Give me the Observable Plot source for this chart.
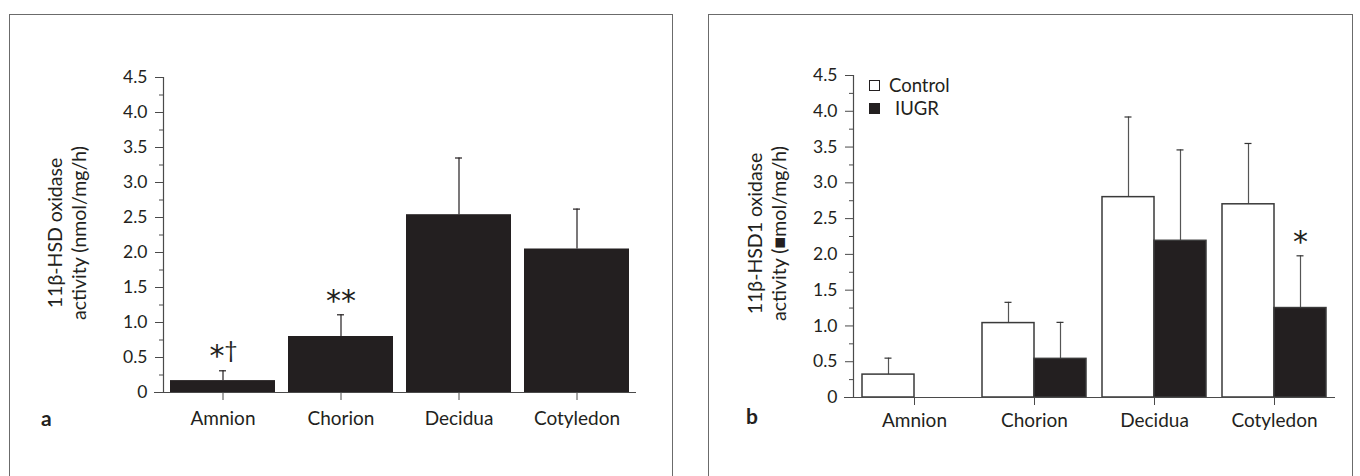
<!DOCTYPE html>
<html><head><meta charset="utf-8">
<script src="https://cdn.jsdelivr.net/npm/d3@7"></script>
<script src="https://cdn.jsdelivr.net/npm/@observablehq/plot@0.6"></script>
<style>
html,body{margin:0;padding:0;background:#fff;}
#root{position:relative;width:1360px;height:476px;overflow:hidden;font-family:Lato,"Open Sans",sans-serif;color:#231f20;}
.panel{position:absolute;top:0;width:680px;height:476px;}
.panel svg{position:absolute;left:0;top:0;}
.box{position:absolute;top:14px;height:480px;border:1.5px solid #6b6b6b;border-bottom:none;box-sizing:border-box;}
.letter{position:absolute;font-weight:bold;font-size:21px;line-height:1;}
.leg{position:absolute;font-size:18.5px;line-height:1;}
.sw{position:absolute;width:11px;height:11px;border:1.3px solid #231f20;box-sizing:border-box;}
</style></head><body><div id="root"></div><script>
// ---- data ----
const tissues = ["Amnion", "Chorion", "Decidua", "Cotyledon"];
const yTicks = [0, 0.5, 1, 1.5, 2, 2.5, 3, 3.5, 4, 4.5];
const yTickLabels = ["0", "0.5", "1.0", "1.5", "2.0", "2.5", "3.0", "3.5", "4.0", "4.5"];
const yMinorTicks = [0.25, 0.75, 1.25, 1.75, 2.25, 2.75, 3.25, 3.75, 4.25];

// panel a
const aMean = [0.17, 0.80, 2.54, 2.05];
const aErr = [0.14, 0.31, 0.81, 0.57];
const aStars = ["*", "**", "", ""];
const aDaggers = ["†", "", "", ""];
const aYLabel = "11β-HSD oxidase\nactivity (nmol/mg/h)";

// panel b
const bGroups = ["Control", "IUGR"];
const bControlMean = [0.32, 1.04, 2.80, 2.70];
const bControlErr = [0.23, 0.29, 1.12, 0.85];
const bIugrMean = [0.0, 0.54, 2.19, 1.25];
const bIugrErr = [0.0, 0.51, 1.27, 0.73];
const bIugrSig = ["", "", "", "*"];
const bYLabel = "11β-HSD1 oxidase\nactivity (■mol/mg/h)";

// ---- tables ----
const aData = tissues.map((t, i) => ({tissue: t, mean: aMean[i], top: aMean[i] + aErr[i], err: aErr[i], star: aStars[i], dagger: aDaggers[i]}));
const bData = tissues.flatMap((t, i) => [
  {tissue: t, group: bGroups[0], mean: bControlMean[i], top: bControlMean[i] + bControlErr[i], err: bControlErr[i], sig: ""},
  {tissue: t, group: bGroups[1], mean: bIugrMean[i], top: bIugrMean[i] + bIugrErr[i], err: bIugrErr[i], sig: bIugrSig[i]}
]);

const INK = "#231f20";
const FONT = "Lato, 'Open Sans', sans-serif";
const STARFONT = "'DejaVu Sans', sans-serif";

function axesMarks(cfg) {
  return [
    Plot.frame({anchor: "left", stroke: "#4a4a4a", strokeWidth: 1.2}),
    Plot.ruleY([0], {stroke: "#4a4a4a", strokeWidth: 1.2, insetLeft: -9}),
    Plot.axisY({ticks: yTicks, tickFormat: d => yTickLabels[yTicks.indexOf(d)], tickSize: 8, tickPadding: 8, fontSize: 17.5, stroke: "#4a4a4a"}),
    Plot.axisY({ticks: yMinorTicks, tickSize: 4, text: null, stroke: "#4a4a4a"}),
    Plot.axisX({tickSize: 8, tickPadding: cfg.xPad, fontSize: 19, stroke: "#4a4a4a", label: null}),
    Plot.text([cfg.yLabel], {frameAnchor: "left", textAnchor: "middle", rotate: -90, dx: cfg.labelDx, dy: cfg.labelDy, lineHeight: 1.2, fontSize: 19.5, fill: INK})
  ];
}

const root = document.getElementById("root");

function addBox(left, width) {
  const b = document.createElement("div");
  b.className = "box"; b.style.left = left + "px"; b.style.width = width + "px";
  root.appendChild(b);
}
addBox(9, 664);
addBox(708, 645);

// ---- panel a ----
const pa = document.createElement("div"); pa.className = "panel"; pa.style.left = "0px"; root.appendChild(pa);
const plotA = Plot.plot({
  width: 680, height: 476,
  marginLeft: 163, marginRight: 44, marginTop: 77, marginBottom: 84,
  style: {fontFamily: FONT, color: INK, background: "transparent", overflow: "visible"},
  x: {domain: tissues, paddingInner: 0.11, paddingOuter: 0.055, axis: null},
  y: {domain: [0, 4.5], axis: null},
  marks: [
    Plot.barY(aData, {x: "tissue", y: "mean", fill: INK}),
    Plot.ruleX(aData, {x: "tissue", y1: "mean", y2: "top", stroke: INK, strokeWidth: 1.2}),
    Plot.tickY(aData, {x: "tissue", y: "top", stroke: INK, strokeWidth: 1.2, insetLeft: 49, insetRight: 49}),
    Plot.text(aData.filter(d => !d.dagger), {x: "tissue", y: "top", text: "star", fontFamily: STARFONT, fontSize: 30, dy: -13, fill: INK}),
    Plot.text(aData.filter(d => d.dagger), {x: "tissue", y: "top", text: "star", fontFamily: STARFONT, fontSize: 30, dy: -14, dx: -6, fill: INK}),
    Plot.text(aData.filter(d => d.dagger), {x: "tissue", y: "top", text: "dagger", fontSize: 23, dy: -20, dx: 8, fill: INK}),
    ...axesMarks({xPad: 11, yLabel: aYLabel, labelDx: -97, labelDy: -2})
  ]
});
pa.appendChild(plotA);

// ---- panel b ----
const pb = document.createElement("div"); pb.className = "panel"; pb.style.left = "680px"; root.appendChild(pb);
const bDims = {width: 680, height: 476, marginLeft: 173, marginRight: 25, marginTop: 75, marginBottom: 79};
const plotB1 = Plot.plot({
  ...bDims,
  style: {fontFamily: FONT, color: INK, background: "transparent", overflow: "visible"},
  x: {domain: tissues, paddingInner: 0.137, paddingOuter: 0.0685, axis: null},
  y: {domain: [0, 4.5], axis: null},
  marks: axesMarks({xPad: 7.5, yLabel: bYLabel, labelDx: -87, labelDy: -3})
});
const plotB2 = Plot.plot({
  ...bDims,
  style: {fontFamily: FONT, color: INK, background: "transparent", overflow: "visible"},
  fx: {domain: tissues, paddingInner: 0.137, paddingOuter: 0.0685, axis: null},
  x: {domain: bGroups, padding: 0, axis: null},
  y: {domain: [0, 4.5], axis: null},
  color: {domain: bGroups, range: ["#ffffff", INK]},
  marks: [
    Plot.ruleX(bData.filter(d => d.err > 0), {fx: "tissue", x: "group", y1: "mean", y2: "top", stroke: "#555", strokeWidth: 1.2}),
    Plot.tickY(bData.filter(d => d.err > 0), {fx: "tissue", x: "group", y: "top", stroke: "#333", strokeWidth: 1.2, insetLeft: 22.5, insetRight: 22.5}),
    Plot.barY(bData, {fx: "tissue", x: "group", y: "mean", fill: "group", stroke: "#3a3a3a", strokeWidth: 1.5}),
    Plot.text(bData, {fx: "tissue", x: "group", y: "top", text: "sig", fontFamily: STARFONT, fontSize: 30, dy: -13, fill: INK})
  ]
});
pb.appendChild(plotB2);
pb.appendChild(plotB1);

// legend (panel b)
function addLegend(x, y, filled, label, tx) {
  const s = document.createElement("div"); s.className = "sw";
  s.style.left = x + "px"; s.style.top = y + "px"; s.style.background = filled ? INK : "#fff";
  root.appendChild(s);
  const t = document.createElement("div"); t.className = "leg"; t.textContent = label;
  t.style.left = tx + "px"; t.style.top = (y - 4) + "px";
  root.appendChild(t);
}
addLegend(869, 80, false, bGroups[0], 889);
addLegend(869, 103, true, bGroups[1], 895);

// panel letters
function addLetter(ch, x, y) {
  const l = document.createElement("div"); l.className = "letter"; l.textContent = ch;
  l.style.left = x + "px"; l.style.top = y + "px"; root.appendChild(l);
}
addLetter("a", 41, 407);
addLetter("b", 746, 405);
</script></body></html>
